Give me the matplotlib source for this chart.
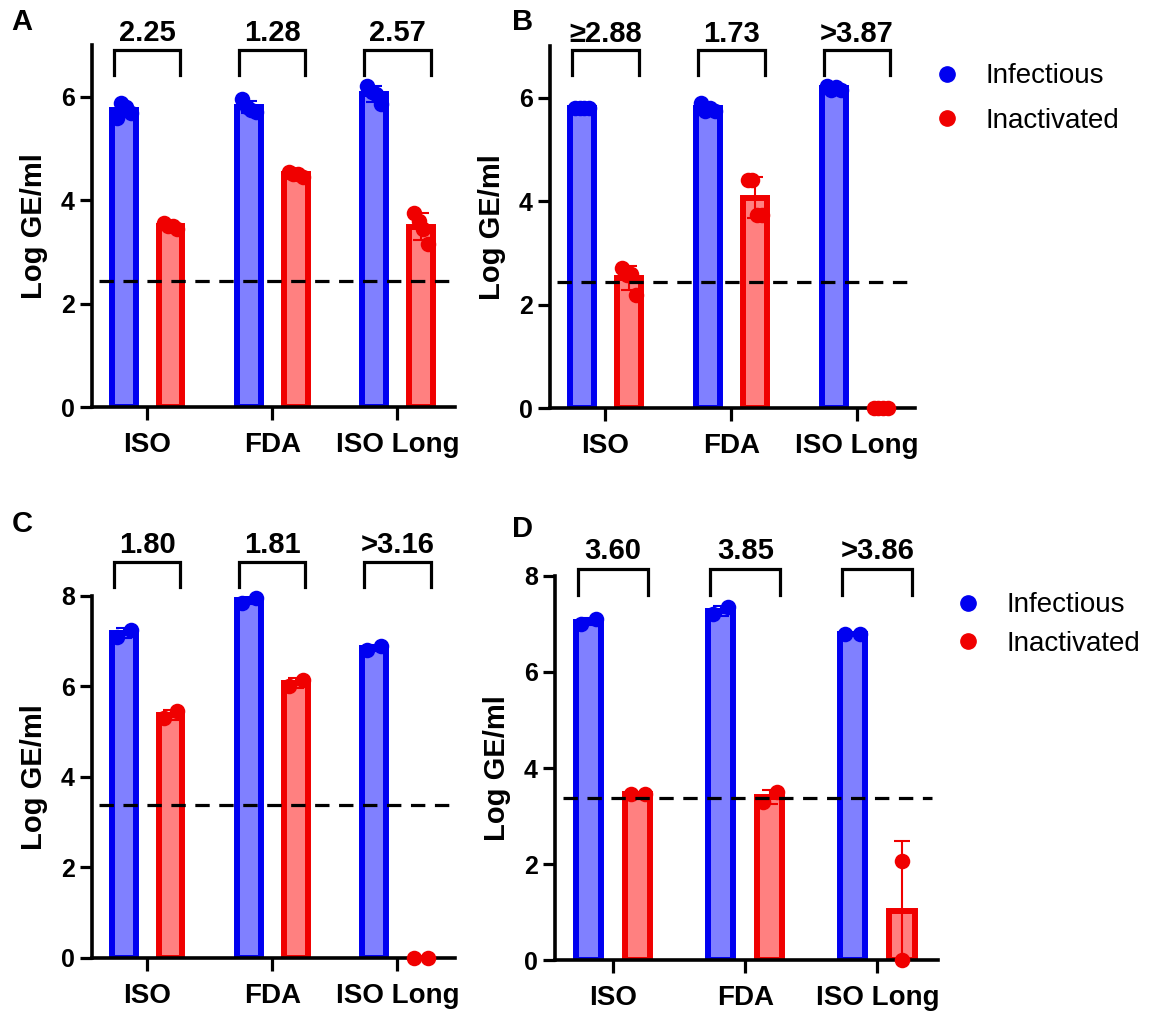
import matplotlib
matplotlib.use('Agg')
import matplotlib.pyplot as plt
from matplotlib.lines import Line2D
import numpy as np

plt.rcParams['font.family'] = ['Liberation Sans', 'DejaVu Sans']

groups = ['ISO', 'FDA', 'ISO Long']

a_infectious = [[5.59, 5.88, 5.80, 5.69], [5.95, 5.80, 5.75, 5.70], [6.20, 6.10, 6.05, 5.85]]
a_inactivated = [[3.55, 3.50, 3.50, 3.45], [4.55, 4.50, 4.50, 4.45], [3.75, 3.60, 3.45, 3.15]]
a_fold = ['2.25', '1.28', '2.57']

b_infectious = [[5.80, 5.80, 5.80, 5.80], [5.90, 5.75, 5.80, 5.75], [6.22, 6.15, 6.20, 6.15]]
b_inactivated = [[2.70, 2.57, 2.60, 2.19], [4.41, 4.41, 3.73, 3.73], [0.0, 0.0, 0.0, 0.0]]
b_fold = ['≥2.88', '1.73', '>3.87']

c_infectious = [[7.10, 7.25], [7.85, 7.95], [6.80, 6.90]]
c_inactivated = [[5.30, 5.45], [6.00, 6.15], [0.0, 0.0]]
c_fold = ['1.80', '1.81', '>3.16']

d_infectious = [[7.00, 7.10], [7.20, 7.35], [6.80, 6.80]]
d_inactivated = [[3.45, 3.45], [3.30, 3.50], [2.06, 0.0]]
d_fold = ['3.60', '3.85', '>3.86']

lod_ab = 2.43
lod_cd = 3.37

blue_edge, blue_fill = '#0000F0', '#8080FF'
red_edge, red_fill = '#F00000', '#FF8080'

fig = plt.figure(figsize=(11.71, 10.13), dpi=100)


def panel(rect, inf, inact, fold, lod, ymax, yticks, br_top, br_bot, txt_y, letter, letter_xy):
    ax = fig.add_axes(rect)
    x = np.arange(len(groups))
    off = 0.187
    w = 0.19
    for vals, sign, ec, fc in [(inf, -1, blue_edge, blue_fill), (inact, 1, red_edge, red_fill)]:
        means = np.array([np.mean(v) for v in vals])
        sds = np.array([np.std(v, ddof=1) for v in vals])
        xs = x + sign * off
        ax.bar(xs, means, width=w, color=fc, edgecolor=ec, linewidth=4.3, zorder=2)
        ax.errorbar(xs, means, yerr=sds, fmt='none', ecolor=ec, elinewidth=1.5,
                    capsize=6, capthick=1.5, zorder=3)
        for xi, v in zip(xs, vals):
            v = np.array(v)
            if v.max() - v.min() > 1:
                jit = np.zeros(len(v))
            else:
                jit = np.linspace(-0.055, 0.055, len(v))
            ax.scatter(xi + jit, v, s=125, color=ec, zorder=4, clip_on=False, linewidths=0)
    ax.axhline(lod, xmin=0.02, xmax=0.985, color='black', linestyle=(0, (4.5, 3)), linewidth=2.3, zorder=5)

    for xi, t in zip(x, fold):
        ax.plot([xi - 0.265, xi - 0.265, xi + 0.265, xi + 0.265], [br_bot, br_top, br_top, br_bot],
                color='black', linewidth=2.3, clip_on=False, solid_joinstyle='miter')
        ax.text(xi, txt_y, t, ha='center', va='baseline', fontsize=21, fontweight='bold')

    ax.set_xlim(-0.44, 2.46)
    ax.set_ylim(0, ymax)
    ax.set_yticks(yticks)
    ax.set_xticks(x)
    ax.set_xticklabels(groups, fontsize=20, fontweight='bold')
    ax.tick_params(axis='y', labelsize=18, length=9, width=2.3)
    ax.tick_params(axis='x', length=9, width=2.3, pad=9)
    for lab in ax.get_yticklabels():
        lab.set_fontweight('bold')
    ax.set_ylabel('Log GE/ml', fontsize=21, fontweight='bold', labelpad=9)
    ax.spines['top'].set_visible(False)
    ax.spines['right'].set_visible(False)
    ax.spines['left'].set_linewidth(2.6)
    ax.spines['bottom'].set_linewidth(2.6)
    fig.text(letter_xy[0], letter_xy[1], letter, fontsize=21, fontweight='bold', ha='left', va='center')
    return ax


panel([0.0786, 0.5982, 0.3100, 0.3574], a_infectious, a_inactivated, a_fold, lod_ab, 7, [0, 2, 4, 6],
      6.90, 6.42, 7.07, 'A', (0.010, 0.978))
panel([0.4697, 0.5972, 0.3117, 0.3574], b_infectious, b_inactivated, b_fold, lod_ab, 7, [0, 2, 4, 6],
      6.92, 6.44, 7.08, 'B', (0.437, 0.978))
panel([0.0786, 0.0543, 0.3100, 0.3574], c_infectious, c_inactivated, c_fold, lod_cd, 8, [0, 2, 4, 6, 8],
      8.74, 8.19, 8.94, 'C', (0.010, 0.483))
panel([0.4740, 0.0523, 0.3271, 0.3791], d_infectious, d_inactivated, d_fold, lod_cd, 8, [0, 2, 4, 6, 8],
      8.15, 7.60, 8.35, 'D', (0.437, 0.478))

handles = [Line2D([], [], marker='o', linestyle='none', color=blue_edge, markersize=11),
           Line2D([], [], marker='o', linestyle='none', color=red_edge, markersize=11)]
labels = ['Infectious', 'Inactivated']
fig.legend(handles, labels, loc='upper left', bbox_to_anchor=(0.7635, 0.962), frameon=False,
           fontsize=20, handlelength=2.0, handletextpad=0.4, labelspacing=0.65)
fig.legend(handles, labels, loc='upper left', bbox_to_anchor=(0.7815, 0.440), frameon=False,
           fontsize=20, handlelength=2.0, handletextpad=0.4, labelspacing=0.45)

fig.savefig('out.png', dpi=100)
